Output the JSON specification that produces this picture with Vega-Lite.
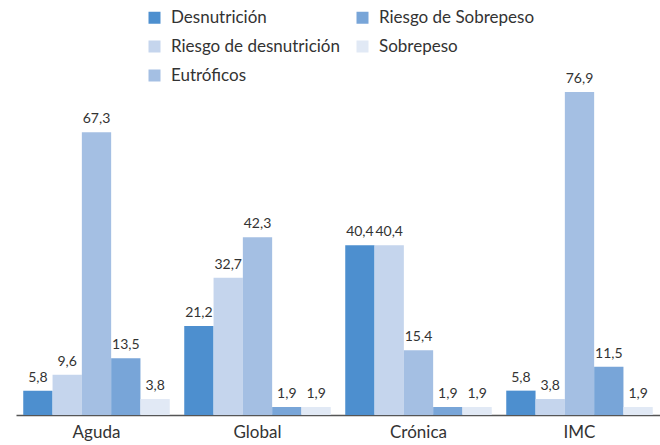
{
  "$schema": "https://vega.github.io/schema/vega-lite/v6.json",
  "width": 644,
  "height": 336,
  "autosize": {"type": "none"},
  "padding": {"left": 16, "top": 79, "right": 0, "bottom": 30},
  "background": "white",
  "config": {
    "view": {"stroke": null},
    "font": "Lato",
    "locale": {"number": {"decimal": ",", "thousands": ".", "grouping": [3], "currency": ["", " €"]}}
  },
  "data": {
    "values": [
      {"grupo": "Aguda", "serie": "Desnutrición", "valor": 5.8},
      {"grupo": "Aguda", "serie": "Riesgo de desnutrición", "valor": 9.6},
      {"grupo": "Aguda", "serie": "Eutróficos", "valor": 67.3},
      {"grupo": "Aguda", "serie": "Riesgo de Sobrepeso", "valor": 13.5},
      {"grupo": "Aguda", "serie": "Sobrepeso", "valor": 3.8},
      {"grupo": "Global", "serie": "Desnutrición", "valor": 21.2},
      {"grupo": "Global", "serie": "Riesgo de desnutrición", "valor": 32.7},
      {"grupo": "Global", "serie": "Eutróficos", "valor": 42.3},
      {"grupo": "Global", "serie": "Riesgo de Sobrepeso", "valor": 1.9},
      {"grupo": "Global", "serie": "Sobrepeso", "valor": 1.9},
      {"grupo": "Crónica", "serie": "Desnutrición", "valor": 40.4},
      {"grupo": "Crónica", "serie": "Riesgo de desnutrición", "valor": 40.4},
      {"grupo": "Crónica", "serie": "Eutróficos", "valor": 15.4},
      {"grupo": "Crónica", "serie": "Riesgo de Sobrepeso", "valor": 1.9},
      {"grupo": "Crónica", "serie": "Sobrepeso", "valor": 1.9},
      {"grupo": "IMC", "serie": "Desnutrición", "valor": 5.8},
      {"grupo": "IMC", "serie": "Riesgo de desnutrición", "valor": 3.8},
      {"grupo": "IMC", "serie": "Eutróficos", "valor": 76.9},
      {"grupo": "IMC", "serie": "Riesgo de Sobrepeso", "valor": 11.5},
      {"grupo": "IMC", "serie": "Sobrepeso", "valor": 1.9}
    ]
  },
  "encoding": {
    "x": {
      "field": "grupo", "type": "nominal",
      "sort": ["Aguda", "Global", "Crónica", "IMC"],
      "scale": {"paddingInner": 0.09, "paddingOuter": 0.045},
      "axis": {"title": null, "labelAngle": 0, "ticks": false, "domainColor": "#555555", "domainWidth": 1.5, "labelFontSize": 17, "labelColor": "#333333", "labelPadding": 9}
    },
    "xOffset": {
      "field": "serie", "type": "nominal",
      "sort": ["Desnutrición", "Riesgo de desnutrición", "Eutróficos", "Riesgo de Sobrepeso", "Sobrepeso"],
      "scale": {"paddingInner": 0, "paddingOuter": 0}
    },
    "y": {
      "field": "valor", "type": "quantitative",
      "scale": {"domain": [0, 80], "nice": false},
      "axis": null
    }
  },
  "layer": [
    {
      "mark": {"type": "bar"},
      "encoding": {
        "color": {
          "field": "serie", "type": "nominal",
          "scale": {
            "domain": ["Desnutrición", "Riesgo de desnutrición", "Eutróficos", "Riesgo de Sobrepeso", "Sobrepeso"],
            "range": ["#4d8fcf", "#c5d5ed", "#a4bfe3", "#78a5d8", "#e1e9f5"]
          },
          "legend": {
            "title": null, "orient": "none", "legendX": 130, "legendY": -70,
            "columns": 2, "columnPadding": 14, "rowPadding": 11,
            "symbolType": "square", "symbolSize": 144, "symbolStrokeWidth": 0,
            "labelFontSize": 17, "labelColor": "#333333", "labelOffset": 8, "labelLimit": 300
          }
        }
      }
    },
    {
      "mark": {"type": "text", "baseline": "bottom", "dy": -6, "fontSize": 14, "color": "#333333"},
      "encoding": {
        "text": {"field": "valor", "type": "quantitative", "format": ".1f"}
      }
    }
  ]
}
